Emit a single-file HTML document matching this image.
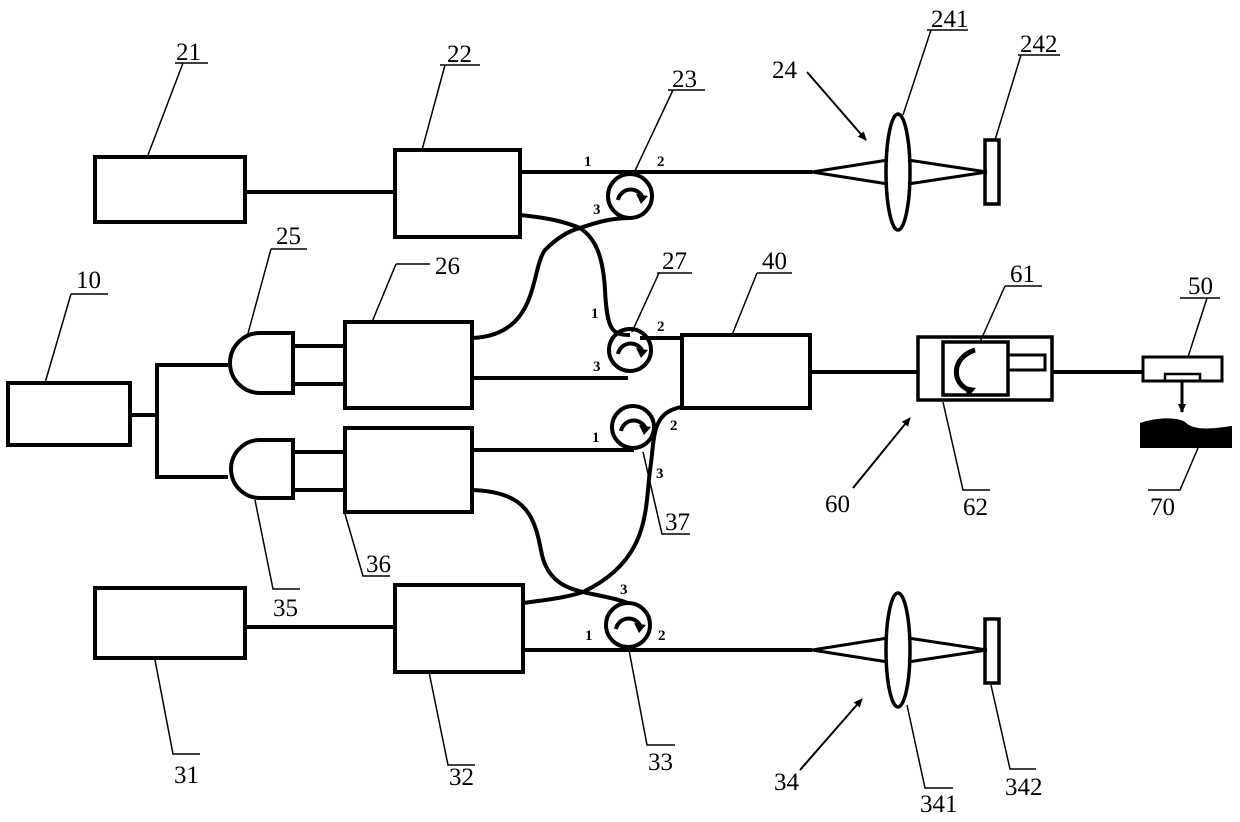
<!DOCTYPE html>
<html><head><meta charset="utf-8"><style>
html,body{margin:0;padding:0;background:#fff;}
svg{display:block}
text{font-family:"Liberation Serif",serif;fill:#000}
.l{font-size:25px}
.p{font-size:15px;font-weight:bold}
</style></head><body>
<svg width="1240" height="822" viewBox="0 0 1240 822" xmlns="http://www.w3.org/2000/svg">
<defs><marker id="ah" markerWidth="10" markerHeight="10" refX="8" refY="5" orient="auto" markerUnits="userSpaceOnUse"><path d="M0,1 L9,5 L0,9 z" fill="#000"/></marker></defs>
<g fill="none" stroke="#000" stroke-width="4">
<rect x="95" y="157" width="150" height="65"/>
<rect x="395" y="150" width="125" height="87"/>
<rect x="8" y="383" width="122" height="62"/>
<rect x="345" y="322" width="127" height="86"/>
<rect x="345" y="428" width="127" height="84"/>
<rect x="682" y="335" width="128" height="73"/>
<rect x="95" y="588" width="150" height="70"/>
<rect x="395" y="585" width="128" height="87"/>
<rect x="918" y="337" width="134" height="63" stroke-width="3.5"/>
<rect x="943" y="342" width="65" height="53" stroke-width="3.5"/>
<rect x="1008" y="355" width="37" height="15" stroke-width="3"/>
<rect x="1143" y="357" width="79" height="24" stroke-width="3"/>
<rect x="1165" y="374" width="35" height="7" stroke-width="2.5"/>
<line x1="245" y1="192" x2="395" y2="192"/>
<line x1="520" y1="172" x2="812" y2="172"/>
<line x1="245" y1="627" x2="395" y2="627"/>
<line x1="523" y1="650" x2="812" y2="650"/>
<line x1="130" y1="415" x2="157" y2="415"/>
<polyline points="228,365 157,365 157,477 228,477"/>
<path d="M293,333 L260,333 A30,30 0 0 0 260,393 L293,393 Z"/>
<path d="M293,440 L260,440 A29,29 0 0 0 260,498 L293,498 Z"/>
<line x1="293" y1="346" x2="345" y2="346"/>
<line x1="293" y1="384" x2="345" y2="384"/>
<line x1="293" y1="452" x2="345" y2="452"/>
<line x1="293" y1="490" x2="345" y2="490"/>
<line x1="472" y1="378" x2="628" y2="378"/>
<line x1="472" y1="450" x2="634" y2="450"/>
<line x1="810" y1="372" x2="918" y2="372"/>
<line x1="1052" y1="372" x2="1143" y2="372"/>
<line x1="640" y1="338" x2="682" y2="338"/>
<circle cx="630" cy="196" r="22"/>
<circle cx="630" cy="350" r="21"/>
<circle cx="633" cy="427" r="21"/>
<circle cx="628" cy="625" r="22"/>
<path d="M520,215 C550,218 565,222 580,228 C595,223 610,218 630,218"/>
<path d="M472,338 C540,335 530,270 545,250 C560,235 572,230 580,228 C595,238 603,255 605,290 C607,330 612,335 630,335"/>
<path d="M682,407 C650,412 655,440 650,470 C645,510 650,560 583,592 C565,598 545,600 523,603"/>
<path d="M472,490 C530,492 535,520 542,555 C548,580 565,588 583,592 C600,596 615,598 628,603"/>
<path d="M812,172 L888,160 M812,172 L888,184 M908,160 L987,172 M908,184 L987,172" stroke-width="3"/>
<ellipse cx="898" cy="172" rx="12" ry="58" stroke-width="3.5"/>
<rect x="985" y="140" width="14" height="64" stroke-width="3.5"/>
<path d="M812,650 L888,638 M812,650 L888,662 M908,638 L987,650 M908,662 L987,650" stroke-width="3"/>
<ellipse cx="898" cy="650" rx="12" ry="57" stroke-width="3.5"/>
<rect x="985" y="619" width="14" height="64" stroke-width="3.5"/>
</g>
<g fill="none" stroke="#000" stroke-width="4">
<path d="M618,200 A13,13 0 0 1 642,196"/>
<path d="M618,354 A13,13 0 0 1 642,350"/>
<path d="M621,431 A13,13 0 0 1 645,427"/>
<path d="M616,629 A13,13 0 0 1 640,625"/>
<path d="M975,350 C950,358 952,385 970,390" stroke-width="5"/>
</g>
<g fill="#000">
<path d="M636,194 L648,196 L641,204 Z"/>
<path d="M636,348 L648,350 L641,358 Z"/>
<path d="M639,425 L651,427 L644,435 Z"/>
<path d="M634,623 L646,625 L639,633 Z"/>
<path d="M964,386 L976,388 L968,397 Z"/>
<path d="M1140,423 C1160,416 1180,418 1185,422 C1195,432 1215,428 1232,426 L1232,448 L1140,448 Z"/>
</g>
<line x1="1182" y1="381" x2="1182" y2="412" stroke="#000" stroke-width="3" marker-end="url(#ah)"/>
<g stroke="#000" stroke-width="1.5" fill="none">
<path d="M175,63 L208,63 M183,63 L148,155"/>
<path d="M440,65 L480,65 M445,65 L422,150"/>
<path d="M668,90 L705,90 M673,90 L633,175"/>
<path d="M927,30 L968,30 M931,30 L903,115"/>
<path d="M1018,55 L1060,55 M1021,55 L995,140"/>
<path d="M71,294 L108,294 M71,294 L45,383"/>
<path d="M271,249 L307,249 M271,249 L247,337"/>
<path d="M396,264 L430,264 M396,264 L372,322"/>
<path d="M657,273 L692,273 M659,273 L632,332"/>
<path d="M757,273 L792,273 M757,273 L732,335"/>
<path d="M1005,286 L1042,286 M1005,286 L980,342"/>
<path d="M1180,298 L1220,298 M1207,298 L1188,357"/>
<path d="M643,452 L662,534 L690,534"/>
<path d="M255,500 L273,589 L300,589"/>
<path d="M345,514 L363,576 L390,576"/>
<path d="M943,402 L963,490 L990,490"/>
<path d="M1148,490 L1180,490 L1198,448"/>
<path d="M155,660 L173,754 L200,754"/>
<path d="M429,672 L448,765 L475,765"/>
<path d="M629,650 L647,745 L675,745"/>
<path d="M907,705 L925,788 L953,788"/>
<path d="M991,685 L1010,769 L1036,769"/>
</g>
<path d="M807,72 L866,140" stroke="#000" stroke-width="2" marker-end="url(#ah)"/>
<path d="M800,770 L862,699" stroke="#000" stroke-width="2" marker-end="url(#ah)"/>
<path d="M853,488 L910,418" stroke="#000" stroke-width="2" marker-end="url(#ah)"/>
<g class="l">
<text x="176" y="60">21</text>
<text x="447" y="62">22</text>
<text x="672" y="87">23</text>
<text x="772" y="78">24</text>
<text x="931" y="27">241</text>
<text x="1020" y="52">242</text>
<text x="76" y="288">10</text>
<text x="276" y="244">25</text>
<text x="435" y="274">26</text>
<text x="662" y="269">27</text>
<text x="762" y="269">40</text>
<text x="1010" y="282">61</text>
<text x="1188" y="294">50</text>
<text x="665" y="530">37</text>
<text x="273" y="616">35</text>
<text x="366" y="572">36</text>
<text x="825" y="512">60</text>
<text x="963" y="515">62</text>
<text x="1150" y="515">70</text>
<text x="174" y="783">31</text>
<text x="449" y="785">32</text>
<text x="648" y="770">33</text>
<text x="774" y="790">34</text>
<text x="920" y="812">341</text>
<text x="1005" y="795">342</text>
</g>
<g class="p">
<text x="584" y="166">1</text><text x="657" y="166">2</text><text x="593" y="214">3</text>
<text x="591" y="318">1</text><text x="657" y="331">2</text><text x="593" y="371">3</text>
<text x="592" y="442">1</text><text x="670" y="430">2</text><text x="656" y="478">3</text>
<text x="585" y="640">1</text><text x="658" y="640">2</text><text x="620" y="594">3</text>
</g>
</svg>
</body></html>
